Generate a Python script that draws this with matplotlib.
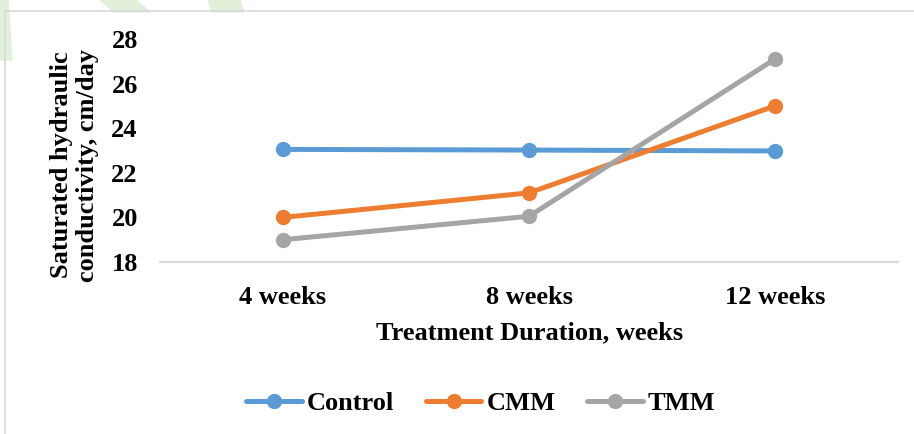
import matplotlib.pyplot as plt
from matplotlib.patches import Polygon, Rectangle

plt.rcParams['font.family'] = ['Liberation Serif', 'DejaVu Serif']
plt.rcParams['font.weight'] = 'bold'

weeks = ['4 weeks', '8 weeks', '12 weeks']
control = [23.05, 23.02, 22.98]
cmm = [20.0, 21.1, 25.0]
tmm = [19.0, 20.05, 27.1]

colors = {'Control': '#5B9BD5', 'CMM': '#ED7D31', 'TMM': '#A5A5A5'}

fig = plt.figure(figsize=(9.14, 4.34), dpi=100)

# faint green watermark stripes at the top
W, H = 914, 434
for x0, x1, x2, x3, yb in [(-5, 8, 12, -5, 60), (100, 136, 150, 114, 12), (208, 240, 244, 212, 12)]:
    pts = [(x0, 0), (x1, 0), (x2, yb), (x3, yb)]
    fig.patches.append(Polygon([(px / W, 1 - py / H) for px, py in pts], closed=True,
                               transform=fig.transFigure, color='#E2EFDA', zorder=0))

# light grey frame
fig.patches.append(Rectangle((5 / W, -0.05), 1.0, 1 - 11 / H + 0.05, transform=fig.transFigure,
                             fill=False, edgecolor='#D9D9D9', linewidth=1.2, zorder=1))

ax = fig.add_axes([160 / W, 1 - 262 / H, (898 - 160) / W, (262 - 39) / H])
ax.patch.set_alpha(0)

x = range(len(weeks))
for name, vals in [('Control', control), ('CMM', cmm), ('TMM', tmm)]:
    ax.plot(x, vals, color=colors[name], linewidth=3.6, marker='o', markersize=10,
            solid_capstyle='round', label=name)

ax.set_xlim(-0.5, 2.5)
ax.set_ylim(18, 28)
ax.set_yticks(range(18, 29, 2))
ax.set_xticks(list(x))
ax.set_xticklabels(weeks)

for s in ['top', 'right', 'left']:
    ax.spines[s].set_visible(False)
ax.spines['bottom'].set_color('#D9D9D9')
ax.spines['bottom'].set_linewidth(1.5)
ax.tick_params(axis='both', length=0, labelsize=19)
ax.tick_params(axis='x', pad=17)
ax.tick_params(axis='y', pad=16)

ax.set_xlabel('Treatment Duration, weeks', fontsize=19, fontweight='bold', va='center')
ax.xaxis.set_label_coords(0.501, -0.318)
ax.set_ylabel('Saturated hydraulic\nconductivity, cm/day', fontsize=19, fontweight='bold',
              linespacing=1.18, va='center')
ax.yaxis.set_label_coords(-0.116, 0.435)

leg = fig.legend(loc='center', bbox_to_anchor=(481 / W, 1 - 403 / H), ncol=3, frameon=False,
                 fontsize=19, handlelength=2.1, columnspacing=1.2, handletextpad=0.2)

fig.savefig('out.png', dpi=100)
